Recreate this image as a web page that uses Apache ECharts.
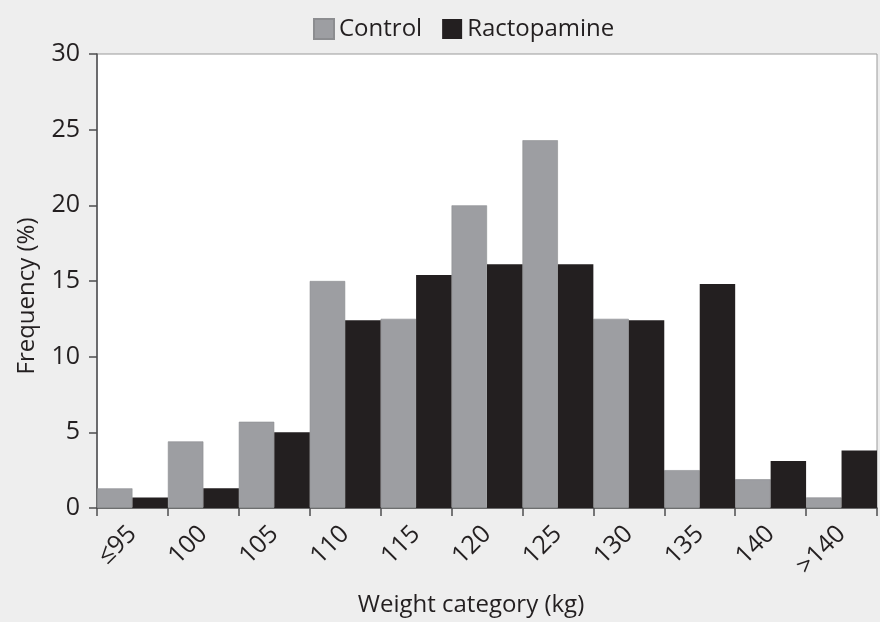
<!DOCTYPE html>
<html>
<head>
<meta charset="utf-8">
<script src="https://cdn.jsdelivr.net/npm/echarts@6/dist/echarts.min.js"></script>
<style>
html,body{margin:0;padding:0;background:#eeeeee;}
#chart{width:880px;height:622px;}
</style>
</head>
<body>
<div id="chart"></div>
<script>
var categories = ['≤95','100','105','110','115','120','125','130','135','140','>140'];
var control = [1.3, 4.4, 5.7, 15.0, 12.5, 20.0, 24.3, 12.5, 2.5, 1.9, 0.7];
var ractopamine = [0.7, 1.3, 5.0, 12.4, 15.4, 16.1, 16.1, 12.4, 14.8, 3.1, 3.8];
var yTicks = {min: 0, max: 30, interval: 5};

var FONT = '"Open Sans", "Noto Sans", sans-serif';
var TXT = '#231f20';
var chart = echarts.init(document.getElementById('chart'), null, {renderer: 'canvas'});
chart.setOption({
  backgroundColor: '#eeeeee',
  animation: false,
  textStyle: {fontFamily: FONT, color: TXT},
  legend: {
    left: 308, top: 12,
    itemWidth: 20, itemHeight: 20, itemGap: 20,
    icon: 'rect',
    textStyle: {fontFamily: FONT, fontSize: 24, color: TXT},
    data: ['Control', 'Ractopamine']
  },
  grid: {
    left: 97, right: 3, top: 54, bottom: 106,
    show: true, backgroundColor: '#ffffff', borderColor: '#9a9a9a', borderWidth: 1,
    containLabel: false
  },
  xAxis: {
    type: 'category',
    data: categories,
    name: 'Weight category (kg)',
    nameLocation: 'middle',
    nameGap: 85,
    nameTextStyle: {fontFamily: FONT, fontSize: 24, color: TXT, padding: [0, 32, 0, 0]},
    axisLine: {lineStyle: {color: '#4d4d4f', width: 1.5}},
    axisTick: {show: true, alignWithLabel: false, interval: 0, length: 8, lineStyle: {color: '#4d4d4f', width: 1.5}},
    axisLabel: {interval: 0, rotate: 45, margin: 22, fontFamily: FONT, fontSize: 25, color: TXT},
    splitLine: {show: false}
  },
  yAxis: {
    type: 'value',
    min: yTicks.min, max: yTicks.max, interval: yTicks.interval,
    name: 'Frequency (%)',
    nameLocation: 'middle',
    nameGap: 58,
    nameTextStyle: {fontFamily: FONT, fontSize: 24, color: TXT, padding: [0, 30, 0, 0]},
    axisLine: {show: true, lineStyle: {color: '#4d4d4f', width: 1.5}},
    axisTick: {show: true, length: 8, lineStyle: {color: '#4d4d4f', width: 1.5}},
    axisLabel: {margin: 17, fontFamily: FONT, fontSize: 25, color: TXT},
    splitLine: {show: false}
  },
  series: [
    {
      name: 'Control', type: 'bar', data: control,
      barGap: '0%', barCategoryGap: '0%',
      itemStyle: {color: '#9d9ea2', borderColor: '#8c8d90', borderWidth: 0.6}
    },
    {
      name: 'Ractopamine', type: 'bar', data: ractopamine,
      barGap: '0%', barCategoryGap: '0%',
      itemStyle: {color: '#231f20'}
    }
  ]
});
</script>
</body>
</html>
